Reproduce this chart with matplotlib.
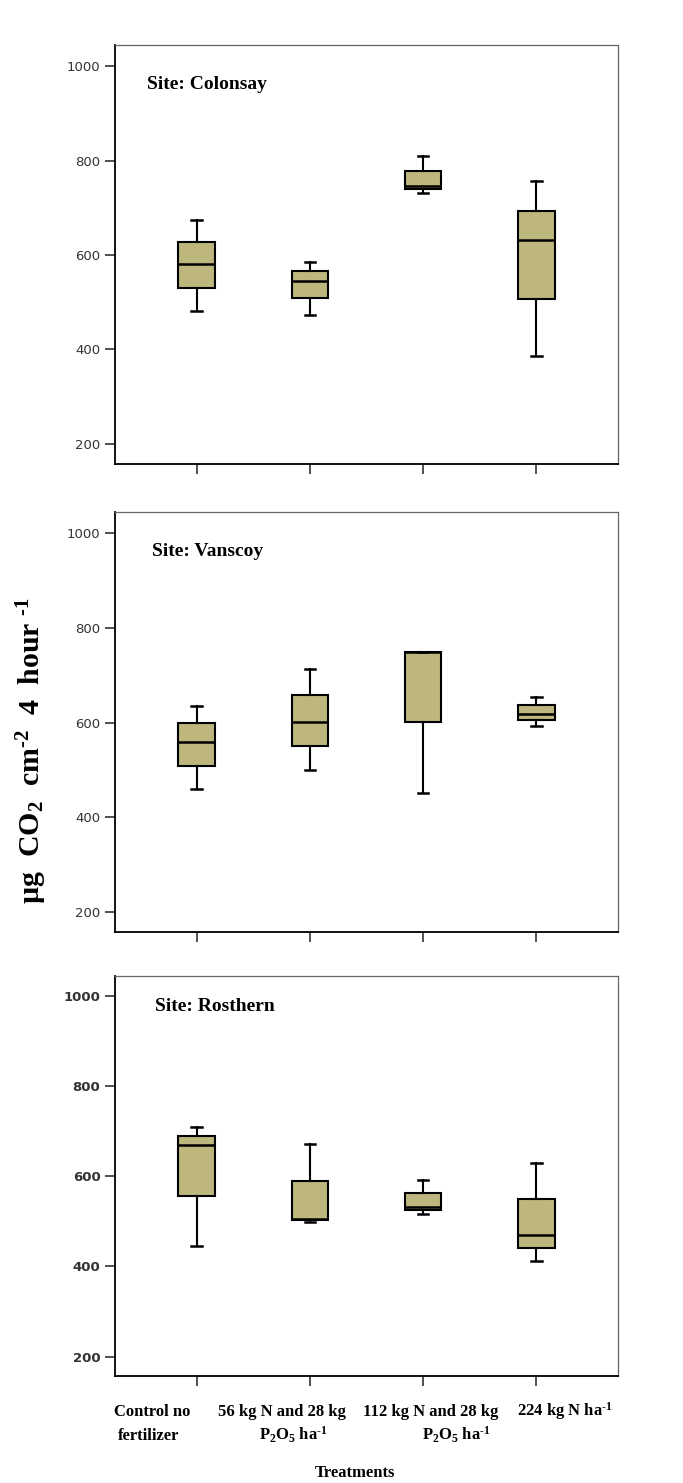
import numpy as np
import matplotlib
matplotlib.use('Agg')
import matplotlib.pyplot as plt

plt.rcParams['mathtext.default'] = 'regular'

sites = ['Colonsay', 'Vanscoy', 'Rosthern']

# per site: whisker low, Q1, median, Q3, whisker high (4 treatments each)
colonsay_low = [481, 472, 731, 385]
colonsay_q1 = [531, 509, 739, 507]
colonsay_med = [582, 546, 746, 631]
colonsay_q3 = [628, 566, 779, 693]
colonsay_high = [674, 586, 810, 756]

vanscoy_low = [459, 500, 450, 592]
vanscoy_q1 = [509, 550, 601, 605]
vanscoy_med = [559, 602, 750, 618]
vanscoy_q3 = [598, 658, 750, 637]
vanscoy_high = [635, 713, 750, 655]

rosthern_low = [445, 499, 517, 413]
rosthern_q1 = [557, 503, 525, 441]
rosthern_med = [670, 506, 531, 470]
rosthern_q3 = [689, 590, 563, 549]
rosthern_high = [709, 672, 593, 630]

site_data = [
    (colonsay_low, colonsay_q1, colonsay_med, colonsay_q3, colonsay_high),
    (vanscoy_low, vanscoy_q1, vanscoy_med, vanscoy_q3, vanscoy_high),
    (rosthern_low, rosthern_q1, rosthern_med, rosthern_q3, rosthern_high),
]

yticks = [200, 400, 600, 800, 1000]

# x tick labels, two lines each (hyphen instead of minus in the superscripts)
label_line1 = ['Control no', '56 kg N and 28 kg', '112 kg N and 28 kg', '224 kg N ha$^{\u20101}$']
label_line2 = ['fertilizer', 'P$_2$O$_5$ ha$^{\u20101}$', 'P$_2$O$_5$ ha$^{\u20101}$', '']
line1_x = [0.61, 1.75, 3.07, 4.25]
line2_x = [0.58, 1.85, 3.29, 4.25]

box_color = '#bdb77e'
serif = 'Liberation Serif'

fig = plt.figure(figsize=(6.83, 14.83), dpi=100)

rects = [
    [0.1684, 0.6871, 0.7365, 0.2825],
    [0.1684, 0.3715, 0.7365, 0.2832],
    [0.1684, 0.0722, 0.7365, 0.2697],
]
label_pos = [(0.064, 0.905), (0.073, 0.905), (0.080, 0.923)]

for i, site in enumerate(sites):
    ax = fig.add_axes(rects[i])
    low, q1, med, q3, high = site_data[i]
    stats = []
    for j in range(4):
        stats.append({'whislo': low[j], 'q1': q1[j], 'med': med[j],
                      'q3': q3[j], 'whishi': high[j], 'fliers': []})
    ax.bxp(stats, positions=[1, 2, 3, 4], widths=0.32, capwidths=0.09,
           patch_artist=True, showfliers=False,
           boxprops=dict(facecolor=box_color, edgecolor='black', linewidth=1.5),
           medianprops=dict(color='black', linewidth=1.8),
           whiskerprops=dict(color='black', linewidth=1.5),
           capprops=dict(color='black', linewidth=1.8))

    ax.set_xlim(0.28, 4.72)
    ax.set_ylim(157, 1045)
    ax.set_yticks(yticks)
    ax.set_xticks([1, 2, 3, 4])
    ax.set_xticklabels([])
    ax.tick_params(axis='both', direction='out', length=7, width=1.1, color='#222222')
    for lab in ax.get_yticklabels():
        lab.set_fontsize(9.5)
        lab.set_color('#333333')
        if i == 2:
            lab.set_fontweight('bold')

    ax.spines['left'].set_linewidth(1.3)
    ax.spines['bottom'].set_linewidth(1.3)
    ax.spines['top'].set_color('#666666')
    ax.spines['right'].set_color('#666666')
    ax.spines['top'].set_linewidth(0.9)
    ax.spines['right'].set_linewidth(0.9)

    ax.text(label_pos[i][0], label_pos[i][1], 'Site: ' + site, transform=ax.transAxes,
            fontsize=14, fontweight='bold', family=serif, va='center', ha='left')

    if i == 2:
        trans = matplotlib.transforms.blended_transform_factory(ax.transData, ax.transAxes)
        for j in range(4):
            ax.text(line1_x[j], -0.10, label_line1[j], transform=trans, ha='center',
                    va='baseline', fontsize=12, fontweight='bold', family=serif)
            if label_line2[j]:
                ax.text(line2_x[j], -0.16, label_line2[j], transform=trans, ha='center',
                        va='baseline', fontsize=12, fontweight='bold', family=serif)

fig.text(0.52, 0.004, 'Treatments', ha='center', va='baseline',
         fontsize=12, fontweight='bold', family=serif)
fig.text(0.047, 0.494, '\u00b5g  CO$_2$  cm$^{\u20102}$  4  hour $^{\u20101}$', rotation=90,
         ha='center', va='center', fontsize=21.5, fontweight='bold', family=serif)

fig.savefig('out.png', dpi=100)
